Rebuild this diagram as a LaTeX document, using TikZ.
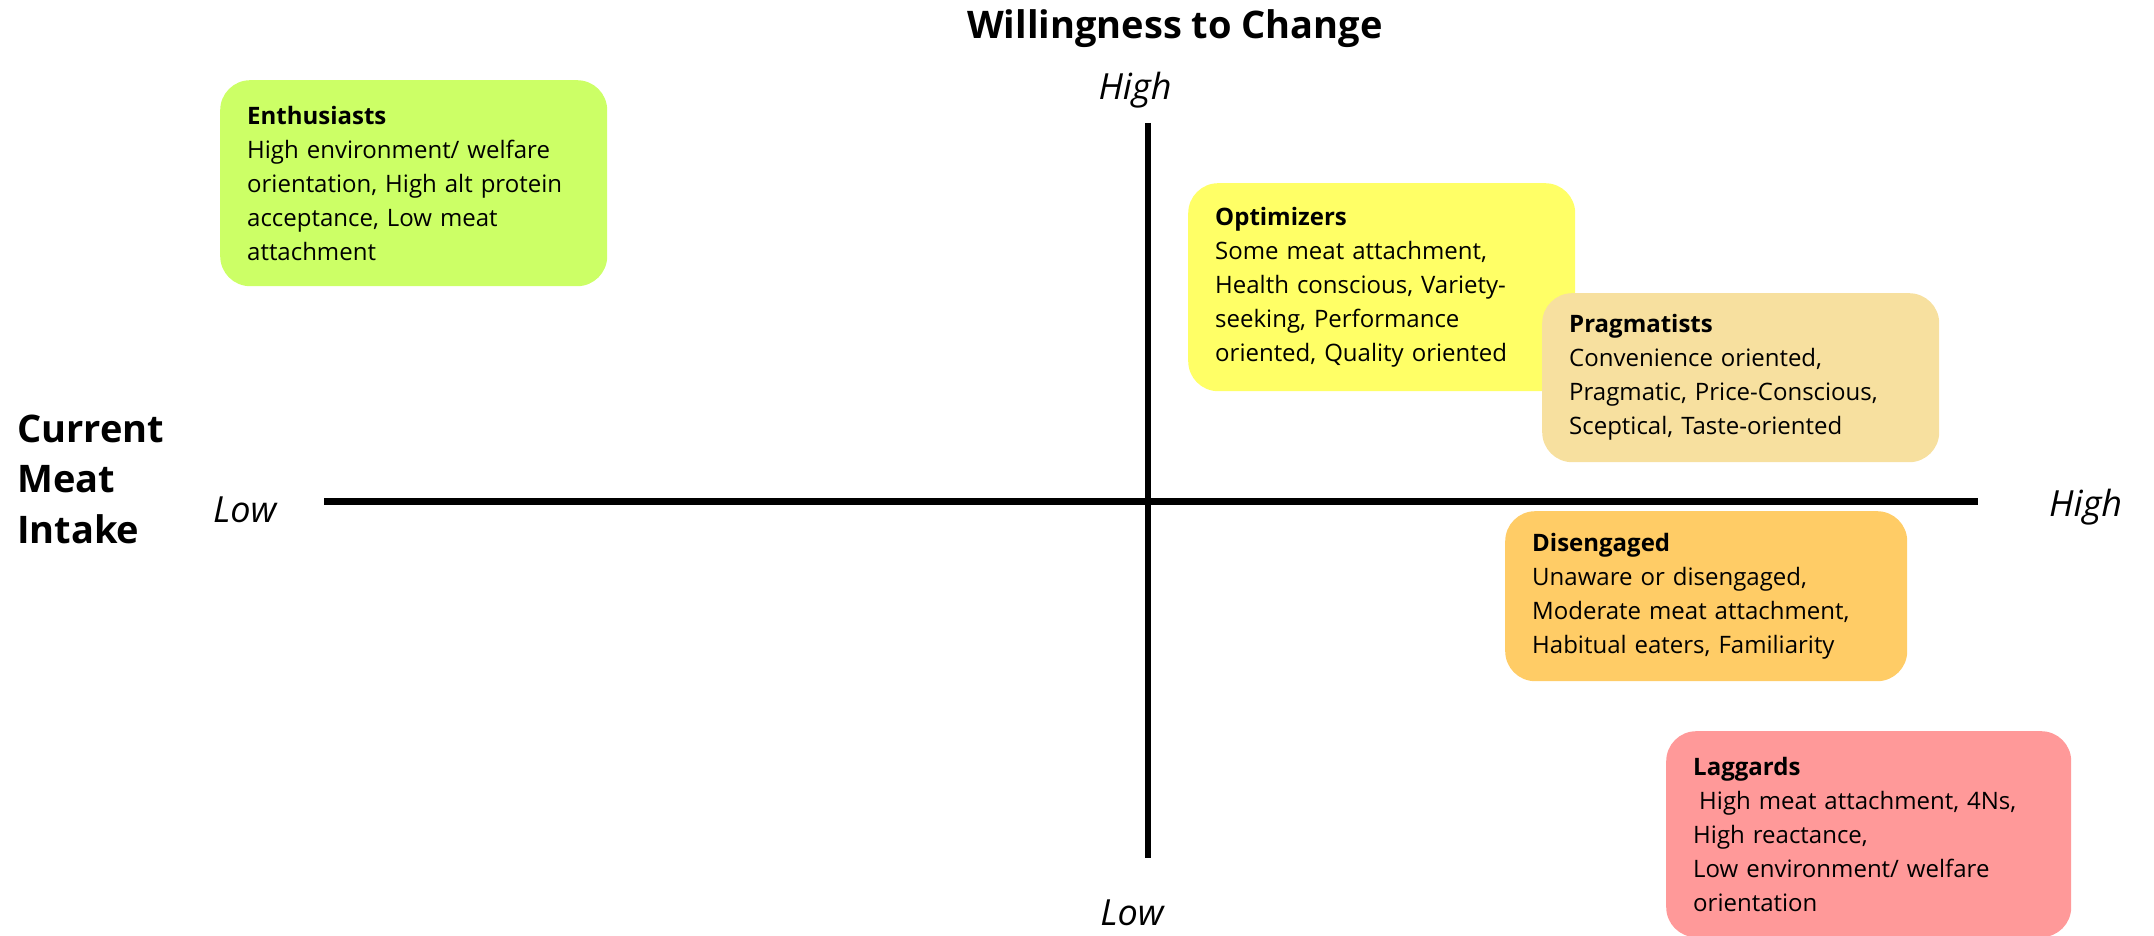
\documentclass[tikz,border=0pt]{standalone}
\usepackage{fontspec}
\setmainfont{Open Sans}
\definecolor{cEnth}{HTML}{CCFF66}
\definecolor{cOpt}{HTML}{FFFF66}
\definecolor{cPrag}{HTML}{F7E09F}
\definecolor{cDis}{HTML}{FFCC66}
\definecolor{cLag}{HTML}{FF9999}
\begin{document}
\begin{tikzpicture}[x=1pt,y=-1pt,
  seg/.style={rounded corners=30pt, inner xsep=27pt, inner ysep=0pt, align=left,
    anchor=north west, font=\fontsize{24}{34}\selectfont, text=black, draw=none},
  axislab/.style={font=\fontsize{36}{40}\selectfont\itshape, inner sep=0pt},
  heading/.style={font=\fontsize{38}{50.5}\selectfont\bfseries, inner sep=0pt},
  axisline/.style={line width=6.5pt, draw=black}]
\useasboundingbox (0,0) rectangle (2154,936);
% axes
\coordinate (hl) at (324,501.5);
\coordinate (hr) at (1978,501.5);
\coordinate (vt) at (1148,123);
\coordinate (vb) at (1148,858);
\draw[axisline] (hl) -- (hr);
\draw[axisline] (vt) -- (vb);
% headings
\node[heading, anchor=base] (title) at (1175,39) {Willingness to Change};
\node[heading, anchor=base west, align=left] (cmi) at (17,543) {Current\\Meat\\Intake};
% axis labels
\node[axislab, anchor=base] (yhigh) at (1135,100) {High};
\node[axislab, anchor=base] (ylow) at (1132,925) {Low};
\node[axislab, anchor=base west] (xlow) at (213,522) {Low};
\node[axislab, anchor=base west] (xhigh) at (2049,516) {High};
% segments
\node[seg, fill=cEnth, minimum width=387pt, minimum height=206pt, text width=333pt] (enth) at (220,80)
  {\textbf{Enthusiasts}\\High environment/ welfare\\orientation, High alt protein\\acceptance, Low meat\\attachment};
\node[seg, fill=cOpt, minimum width=387pt, minimum height=208pt, text width=333pt] (opt) at (1188,183)
  {\textbf{Optimizers}\\Some meat attachment,\\Health conscious, Variety-\\seeking, Performance\\oriented, Quality oriented};
\node[seg, fill=cPrag, minimum width=397pt, minimum height=169pt, text width=343pt] (prag) at (1542,293)
  {\textbf{Pragmatists}\\Convenience oriented,\\Pragmatic, Price-Conscious,\\Sceptical, Taste-oriented};
\node[seg, fill=cDis, minimum width=402pt, minimum height=170pt, text width=348pt] (dis) at (1505,511)
  {\textbf{Disengaged}\\Unaware or disengaged,\\Moderate meat attachment,\\Habitual eaters, Familiarity};
\node[seg, fill=cLag, minimum width=405pt, minimum height=206pt, text width=351pt] (lag) at (1666,731)
  {\textbf{Laggards}\\\hspace*{0.25em}High meat attachment, 4Ns,\\High reactance,\\Low environment/ welfare\\orientation};
\end{tikzpicture}
\end{document}
